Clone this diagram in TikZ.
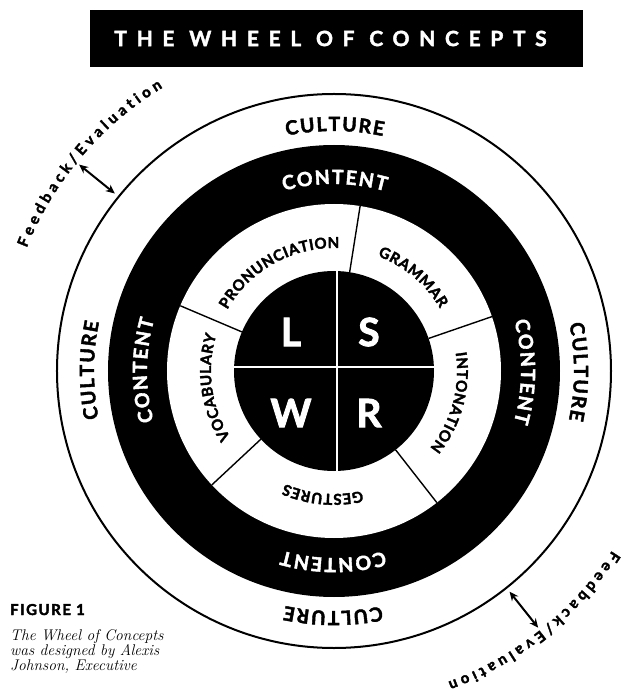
\documentclass[tikz,border=0pt]{standalone}
\usepackage{fontspec}
\usepackage{tikz}
\usetikzlibrary{arrows.meta, positioning, decorations.text}
\newfontfamily\wheelfont[BoldFeatures={FakeBold=2.2}]{Lato}
\newfontfamily\titlefont[LetterSpace=46, BoldFeatures={FakeBold=2}]{Lato}
\newfontfamily\figfont[LetterSpace=10, BoldFeatures={FakeBold=2.4}]{Lato}
% letters along an arc get a kern in front of each one
\newcommand\culturefmt{\wheelfont\bfseries\fontsize{19.5}{19.5}\selectfont\kern1.6pt}
\newcommand\labelfmt{\wheelfont\bfseries\fontsize{15}{15}\selectfont\kern0.6pt}
\newcommand\feedfmt{\wheelfont\bfseries\fontsize{15}{15}\selectfont\kern4pt}

\begin{document}
\begin{tikzpicture}[x=1pt, y=1pt,
    titlebox/.style={fill=black, text=white, minimum width=493pt, minimum height=57pt,
                     inner sep=0pt, font=\titlefont\bfseries\fontsize{21}{21}\selectfont},
    skill/.style={text=white, inner sep=0pt, font=\wheelfont\bfseries\fontsize{39}{39}\selectfont},
    spoke/.style={line width=1.4pt},
    fbarrow/.style={{Stealth[length=9pt, width=8pt]}-{Stealth[length=9pt, width=8pt]}, line width=2pt},
    ringlabel/.style={decorate, decoration={text along path, text align=center, text={|\labelfmt|#1}}},
    culturelabel/.style={decorate, decoration={text along path, text align=center, text={|\culturefmt|#1}}},
    contentlabel/.style={decorate, decoration={text along path, text align=center, text color=white, text={|\culturefmt|#1}}},
    feedlabel/.style={decorate, decoration={text along path, text align=center, text={|\feedfmt|#1}}}
]
\useasboundingbox (-334,-325) rectangle (294,371);

% title
\node[titlebox] (title) at (2.5,332.5) {\hspace*{-12pt}THE WHEEL OF CONCEPTS};

% rings
\draw[line width=2pt] (0,0) circle[radius=277pt];
\fill[black] (0,0) circle[radius=226pt];
\fill[white] (0,0) circle[radius=167pt];
\fill[black] (0,0) circle[radius=100pt];
\foreach \s in {81,19,-52,-137,157}
  \draw[spoke] (\s:100pt) -- (\s:167pt);
\draw[white, line width=2pt] (3,100) -- (3,-100);
\draw[white, line width=2pt] (-100,4) -- (100,4);

% L S W R
\node[skill] (listen) at (-43,39) {L};
\node[skill] (speak)  at (35,39)  {S};
\node[skill] (write)  at (-43,-42) {W};
\node[skill] (read)   at (35,-42) {R};

% ring labels
\path[ringlabel={PRONUNCIATION}] (179:123pt) arc[start angle=179, end angle=59, radius=123pt];
\path[ringlabel={GRAMMAR}]       (110:123pt) arc[start angle=110, end angle=-10, radius=123pt];
\path[ringlabel={INTONATION}]    (45:123pt)  arc[start angle=45, end angle=-75, radius=123pt];
\path[ringlabel={GESTURES}]      (-35:123pt) arc[start angle=-35, end angle=-155, radius=123pt];
\path[ringlabel={VOCABULARY}]    (248:123pt) arc[start angle=248, end angle=128, radius=123pt];

% content and culture
\foreach \a in {90,0,-90,180} {
  \path[contentlabel={CONTENT}] ({\a+80}:187pt) arc[start angle=\a+80, end angle=\a-80, radius=187pt];
  \path[culturelabel={CULTURE}] ({\a+80}:240pt) arc[start angle=\a+80, end angle=\a-80, radius=240pt];
}

% feedback
\coordinate (fbinA)  at (141:282pt);
\coordinate (fboutA) at (141:328pt);
\coordinate (fbinB)  at (-51.5:282pt);
\coordinate (fboutB) at (-51.5:328pt);
\draw[fbarrow] (fbinA) -- (fboutA);
\draw[fbarrow] (fbinB) -- (fboutB);
\path[feedlabel={Feedback/Evaluation}] (200:331pt) arc[start angle=200, end angle=80, radius=331pt];
\path[feedlabel={Feedback/Evaluation}] (9:331pt) arc[start angle=9, end angle=-111, radius=331pt];

% caption
\node[anchor=base west, inner sep=0pt, font=\figfont\bfseries\fontsize{15}{15}\selectfont] (figlabel) at (-324,-244) {FIGURE 1};
\node[below right=14pt and 0pt of figlabel.south west, inner sep=0pt, align=left,
      font=\fontsize{15.5}{15}\selectfont\itshape] (figtext)
  {The Wheel of Concepts\\was designed by Alexis\\Johnson, Executive};
\end{tikzpicture}
\end{document}
